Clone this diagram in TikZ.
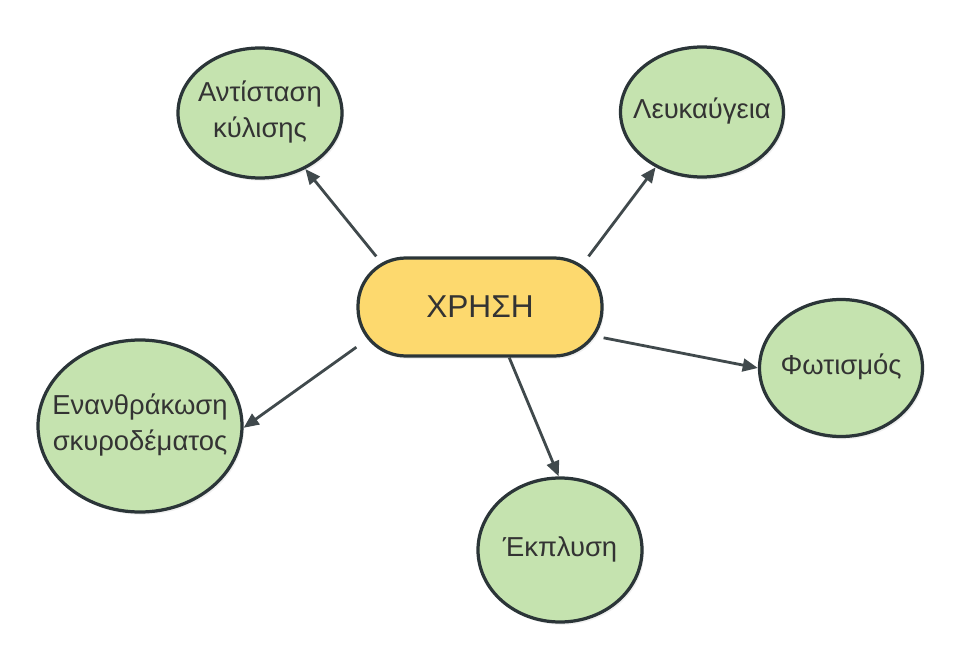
\documentclass[tikz,border=0pt]{standalone}
\usepackage{fontspec}
\setmainfont{Liberation Sans}
\usetikzlibrary{arrows.meta, shapes.geometric, shadows, backgrounds}
\definecolor{leafgreen}{HTML}{C5E3AF}
\definecolor{hubyellow}{HTML}{FDD96E}
\definecolor{rim}{HTML}{2B3538}
\definecolor{inkgray}{HTML}{333333}
% label text that does not stretch the ellipse
\newcommand{\bubtext}[1]{\smash{\makebox[0pt]{\raisebox{-1.7mm}{\begin{tabular}{@{}c@{}}#1\end{tabular}}}}}

\begin{document}
\begin{tikzpicture}[
        bubble/.style={ellipse, draw=rim, line width=2.3pt, fill=leafgreen, inner sep=0pt,
                       text=inkgray, font=\fontsize{19.5}{25}\selectfont, drop shadow={opacity=0.12, shadow xshift=0.5mm, shadow yshift=-0.7mm}},
        hub/.style={rectangle, rounded corners=1.2cm, draw=rim, line width=2.3pt, fill=hubyellow,
                    minimum width=6.1cm, minimum height=2.45cm, text=inkgray, font=\fontsize{22.5}{27}\selectfont,
                    drop shadow={opacity=0.12, shadow xshift=0.5mm, shadow yshift=-0.7mm}},
        arr/.style={-{Triangle[length=3.8mm, width=3.2mm]}, line width=2pt, draw=rim!90}
        ]
        \useasboundingbox (0,0) rectangle (24,16.5);
        \node[hub] (use) at (12,8.825) {ΧΡΗΣΗ};
        \node[bubble, minimum width=4.1cm, minimum height=3.25cm] (rolling) at (6.5,13.675) {\bubtext{Αντίσταση\\κύλισης}};
        \node[bubble, minimum width=4.075cm, minimum height=3.25cm] (bleach) at (17.55,13.7) {\bubtext{Λευκαύγεια}};
        \node[bubble, minimum width=4.075cm, minimum height=3.425cm] (light) at (21.025,7.3) {\bubtext{Φωτισμός}};
        \node[bubble, minimum width=4.1cm, minimum height=3.6cm] (leach) at (14.0,2.75) {\bubtext{Έκπλυση}};
        \node[bubble, minimum width=5.1cm, minimum height=4.3cm] (carbon) at (3.5,5.85) {\bubtext{Ενανθράκωση\\σκυροδέματος}};
        % connectors behind the nodes
        \begin{scope}[on background layer]
        \draw[arr] (use.154.6) -- (rolling.-51.8);
        \draw[arr] (use.25.2) -- (bleach.-130);
        \draw[arr] (use.-14.7) -- (light.180);
        \draw[arr] (use.-60.3) -- (leach.91.6);
        \draw[arr] (use.198.6) -- (carbon.-1.1);
        \end{scope}
    \end{tikzpicture}
\end{document}
